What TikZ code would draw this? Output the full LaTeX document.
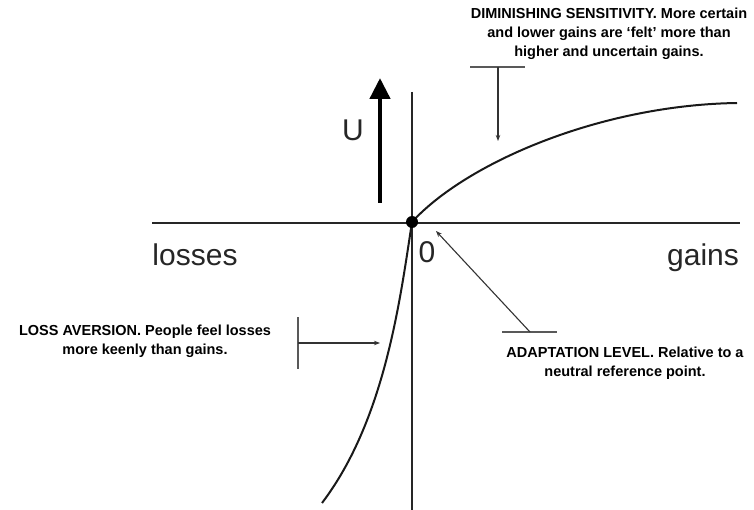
\documentclass[tikz,border=0pt]{standalone}
\usepackage{fontspec}
\setmainfont{Liberation Sans}
\usetikzlibrary{arrows.meta}
\begin{document}
\begin{tikzpicture}[x=1pt,y=-1pt,
  axis/.style={line width=2pt,draw=black!85},
  curve/.style={line width=2pt,draw=black!90},
  bar/.style={line width=1.4pt,draw=black!65},
  pointer/.style={line width=1.1pt,draw=black!80,-{Stealth[length=6pt,width=4.5pt]}},
  big/.style={font=\fontsize{30}{34}\selectfont,text=black!85,inner sep=0pt,anchor=base},
  note/.style={font=\bfseries\fontsize{14.5}{19}\selectfont,align=center,inner sep=0pt}]
\useasboundingbox (0,0) rectangle (754,510);
\fill[white] (0,0) rectangle (754,510);

% axes
\coordinate (xl) at (152,223);
\coordinate (xr) at (740,223);
\coordinate (yt) at (412,92);
\coordinate (yb) at (412,510);
\draw[axis] (xl) -- (xr);
\draw[axis] (yt) -- (yb);

% reference point
\coordinate (o) at (412,222);

% value function: concave for gains, steeper and convex for losses
\coordinate (gEnd) at (737,103);
\coordinate (lEnd) at (322,503);
\draw[curve] (o) .. controls (466,163) and (600,105) .. (gEnd);
\draw[curve] (o) .. controls (400,300) and (385,420) .. (lEnd);
\node[circle,fill=black,minimum size=12pt,inner sep=0pt] (dot) at (o) {};

% utility direction
\coordinate (ub) at (380,203);
\coordinate (ut) at (380,78);
\draw[line width=4.5pt,-{Triangle[length=21pt,width=20pt]}] (ub) -- (ut);
\node[big] (u) at (353,141) {U};

% axis labels
\node[big] (losses) at (195,266) {losses};
\node[big] (gains) at (703,266) {gains};
\node[big] (zero) at (427,263) {0};

% diminishing sensitivity
\node[note] (ds) at (609,34) {DIMINISHING SENSITIVITY. More certain\\and lower gains are ‘felt’ more than\\higher and uncertain gains.};
\coordinate (dsl) at (470,67);
\coordinate (dsr) at (525,67);
\coordinate (dsm) at (498,67);
\coordinate (dst) at (498,141);
\draw[bar] (dsl) -- (dsr);
\draw[pointer] (dsm) -- (dst);

% loss aversion
\node[note] (la) at (145,341) {LOSS AVERSION. People feel losses\\more keenly than gains.};
\coordinate (lat) at (298,317);
\coordinate (lab) at (298,369);
\coordinate (lam) at (298,343);
\coordinate (lae) at (380,343);
\draw[bar] (lat) -- (lab);
\draw[pointer] (lam) -- (lae);

% adaptation level
\node[note] (al) at (625,363) {ADAPTATION LEVEL. Relative to a\\neutral reference point.};
\coordinate (all) at (502,332);
\coordinate (alr) at (557,332);
\coordinate (alm) at (530,332);
\coordinate (alt) at (436,231);
\draw[bar] (all) -- (alr);
\draw[pointer] (alm) -- (alt);
\end{tikzpicture}
\end{document}
